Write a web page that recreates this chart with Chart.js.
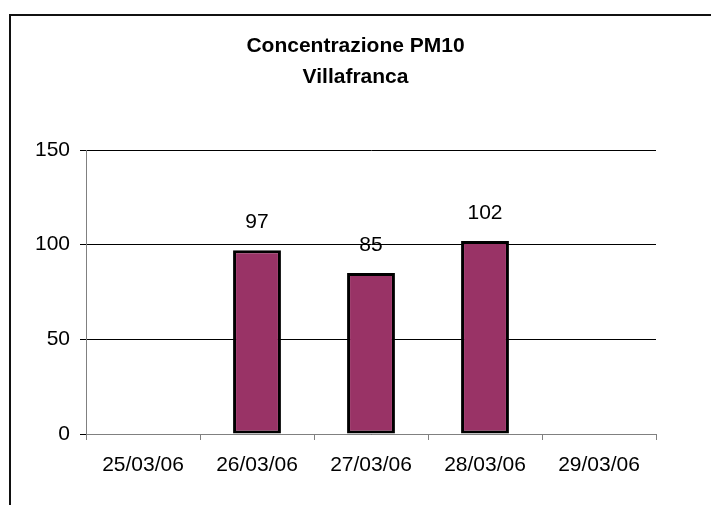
<!DOCTYPE html>
<html lang="it">
<head>
    <meta charset="UTF-8">
    <title>Concentrazione PM10 Villafranca</title>
    <script src="https://cdn.jsdelivr.net/npm/chart.js"></script>
    <style>
        body { margin: 0; background: #fff; }
        .wrap { position: relative; width: 711px; height: 505px; overflow: hidden; }
        .frame { position: absolute; left: 9px; top: 14px; width: 720px; height: 520px;
                 border-top: 2px solid #111; border-left: 2px solid #111; }
        canvas { position: absolute; left: 0; top: 0; }
    </style>
</head>
<body>
    <div class="wrap">
        <div class="frame"></div>
        <canvas id="myChart"></canvas>
    </div>

    <script>
        // dati
        const giorni = ['25/03/06', '26/03/06', '27/03/06', '28/03/06', '29/03/06'];
        const pm10 = [null, 97, 85, 102, null];
        const tickY = [0, 50, 100, 150];

        const FONT = "'Liberation Sans', Arial, sans-serif";

        // etichette sopra le barre
        const etichette = {
            id: 'etichette',
            afterDatasetsDraw(chart) {
                const ctx = chart.ctx;
                const meta = chart.getDatasetMeta(0);
                ctx.save();
                ctx.font = '21px ' + FONT;
                ctx.fillStyle = '#000';
                ctx.textAlign = 'center';
                ctx.textBaseline = 'middle';
                meta.data.forEach((bar, i) => {
                    if (pm10[i] == null) return;
                    ctx.fillText(String(pm10[i]), bar.x, bar.y - 28);
                });
                ctx.restore();
            }
        };

        const ctx = document.getElementById('myChart').getContext('2d');
        const chart = new Chart(ctx, {
            type: 'bar',
            data: {
                labels: giorni,
                datasets: [{
                    label: 'PM10',
                    data: pm10,
                    backgroundColor: '#993366',
                    borderColor: '#000',
                    borderWidth: 3,
                    borderSkipped: false,
                    categoryPercentage: 1,
                    barPercentage: 0.42
                }]
            },
            options: {
                responsive: true,
                maintainAspectRatio: false,
                animation: false,
                layout: { padding: 0 },
                plugins: {
                    legend: { display: false },
                    tooltip: { enabled: false },
                    title: {
                        display: true,
                        text: ['Concentrazione PM10', 'Villafranca'],
                        color: '#000',
                        font: { family: FONT, size: 21, weight: 'bold', lineHeight: '31px' },
                        padding: { top: 31, bottom: 57 }
                    }
                },
                scales: {
                    x: {
                        grid: {
                            display: true,
                            drawOnChartArea: false,
                            drawTicks: true,
                            tickLength: 6,
                            color: '#808080',
                            offset: true
                        },
                        border: { color: '#808080', width: 1 },
                        ticks: {
                            color: '#000',
                            font: { family: FONT, size: 21 },
                            padding: 13,
                            maxRotation: 0
                        },
                        afterFit(s) { s.height = 71; }
                    },
                    y: {
                        min: 0,
                        max: 150,
                        afterBuildTicks(s) { s.ticks = tickY.map(v => ({ value: v })); },
                        grid: {
                            color: '#000',
                            lineWidth: 1,
                            drawTicks: true,
                            tickLength: 6,
                            tickColor: '#000'
                        },
                        border: { color: '#808080', width: 1 },
                        ticks: {
                            color: '#000',
                            font: { family: FONT, size: 21 },
                            padding: 10
                        },
                        afterFit(s) { s.width = 86; }
                    },
                    destra: {
                        type: 'linear',
                        position: 'right',
                        grid: { display: false },
                        border: { display: false },
                        ticks: { display: false },
                        afterFit(s) { s.width = 55; }
                    }
                }
            },
            plugins: [etichette]
        });
    </script>
</body>
</html>
